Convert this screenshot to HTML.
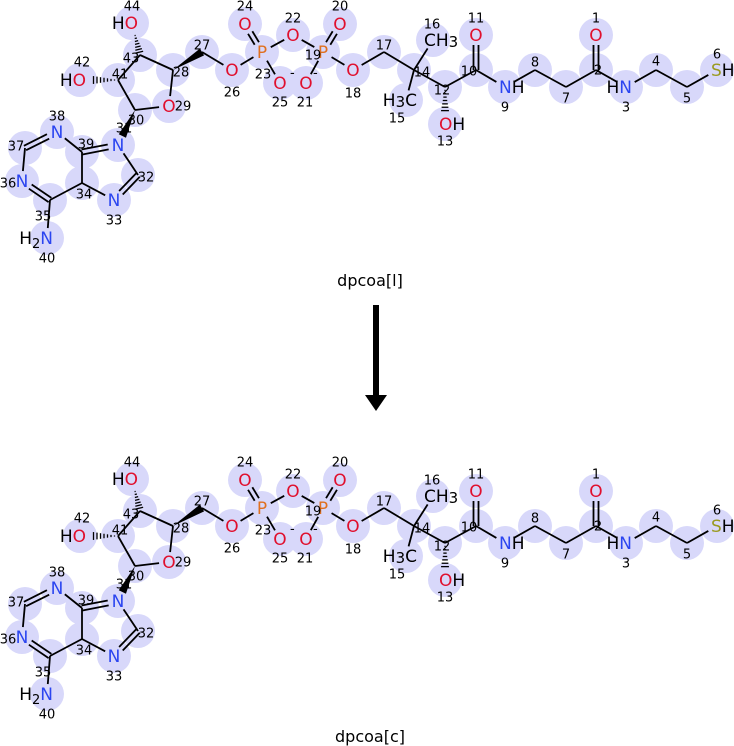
<!DOCTYPE html>
<html><head><meta charset="utf-8"><style>
html,body{margin:0;padding:0;background:#fff;width:734px;height:746px;overflow:hidden}
svg{display:block}
text{font-family:"DejaVu Sans","Liberation Sans",sans-serif}
</style></head><body>
<svg id="s" width="734" height="746" viewBox="0 0 734 746" xmlns="http://www.w3.org/2000/svg">
<g id="g1"></g>
<g id="g2" transform="translate(0,456)"></g>
<text x="370" y="286" font-size="16" text-anchor="middle" fill="#000">dpcoa[l]</text>
<text x="370" y="742" font-size="16" text-anchor="middle" fill="#000">dpcoa[c]</text>
<rect x="373" y="305" width="6" height="92" fill="#000"/>
<polygon points="365,395 387,395 376,411" fill="#000"/>
</svg>
<script>
var A={1:[596,35,'O'],2:[596,70],3:[626,87,'N'],4:[656,70],5:[687,87],6:[717,70,'S'],7:[566,87],8:[535,70],9:[505,87,'N'],10:[476,70],11:[476,35,'O'],12:[445,87],13:[445,124,'O'],14:[414,70],15:[406,100,'C'],16:[433,40,'C'],17:[384,52],18:[353,70,'O'],19:[323,52,'P'],20:[340,24,'O'],21:[306,83,'O'],22:[293,35,'O'],23:[262,52,'P'],24:[245,24,'O'],25:[280,83,'O'],26:[232,70,'O'],27:[202,52],28:[173,70],29:[169,106,'O'],30:[135,110],31:[118,145,'N'],32:[138,175],33:[114,200,'N'],34:[82,183],35:[50,200],36:[22,181,'N'],37:[25,148],38:[57,132,'N'],39:[82,152],40:[47,238,'N'],41:[118,80],42:[80,80,'O'],43:[140,55],44:[132,23,'O']};
var N={1:[596,18],2:[598,70],3:[626,107],4:[656,61],5:[687,98],6:[717,54],7:[566,98],8:[535,62],9:[505,107],10:[469,71],11:[476,18],12:[442,90],13:[445,141],14:[422,72],15:[397,118],16:[432,24],17:[384,45],18:[353,93],19:[313,55],20:[340,6],21:[305,102],22:[293,18],23:[263,74],24:[245,6],25:[280,102],26:[232,92],27:[202,45],28:[181,72],29:[183,106],30:[136,120],31:[124,128],32:[146,177],33:[114,220],34:[84,194],35:[43,216],36:[8,183],37:[16,146],38:[57,116],39:[86,144],40:[47,258],41:[120,74],42:[82,62],43:[131,58],44:[132,6]};
var B=[[44,43,'h'],[43,41],[41,42,'h'],[43,28],[28,27,'w'],[27,26],[26,23],[23,24,'d'],[23,22],[23,25],[22,19],[19,20,'d'],[19,21],[19,18],[18,17],[17,14],[14,16],[14,15],[14,12],[12,13,'h'],[12,10],[10,11,'d'],[10,9],[9,8],[8,7],[7,2],[2,1,'d'],[2,3],[3,4],[4,5],[5,6],[28,29],[29,30],[30,41],[30,31,'w'],[31,39,'d'],[31,32],[32,33,'d'],[33,34],[34,39],[39,38],[38,37,'d'],[37,36],[36,35,'d'],[35,34],[35,40]];
var col={O:'#e0102e',N:'#2b45f0',P:'#e07020',S:'#9a9a20',C:'#000'};
var lab={13:'OH',42:'HO',44:'HO',9:'NH',3:'HN',6:'SH',40:'H₂N',16:'CH₃',15:'H₃C'};
function build(g){
 var h='';
 for(var k in A){h+='<circle cx="'+A[k][0]+'" cy="'+A[k][1]+'" r="17" fill="#d8d8fa"/>';}
 B.forEach(function(b){
  var a=A[b[0]],c=A[b[1]];
  var x1=a[0],y1=a[1],x2=c[0],y2=c[1];
  var dx=x2-x1,dy=y2-y1,L=Math.sqrt(dx*dx+dy*dy),ux=dx/L,uy=dy/L;
  var s1=a[2]?10:0,s2=c[2]?10:0;
  x1+=ux*s1;y1+=uy*s1;x2-=ux*s2;y2-=uy*s2;
  var px=-uy,py=ux;
  if(b[2]=='w'){
   h+='<polygon points="'+x1+','+y1+' '+(x2+px*4)+','+(y2+py*4)+' '+(x2-px*4)+','+(y2-py*4)+'" fill="#000"/>';
  }else if(b[2]=='h'){
   for(var i=1;i<=7;i++){var t=i/8,w=t*4.5,cx=x1+(x2-x1)*t,cy=y1+(y2-y1)*t;
    h+='<line x1="'+(cx+px*w)+'" y1="'+(cy+py*w)+'" x2="'+(cx-px*w)+'" y2="'+(cy-py*w)+'" stroke="#000" stroke-width="1.3"/>';}
  }else if(b[2]=='d'){
   var o=2.5;
   h+='<line x1="'+(x1+px*o)+'" y1="'+(y1+py*o)+'" x2="'+(x2+px*o)+'" y2="'+(y2+py*o)+'" stroke="#000" stroke-width="1.8"/>';
   h+='<line x1="'+(x1-px*o)+'" y1="'+(y1-py*o)+'" x2="'+(x2-px*o)+'" y2="'+(y2-py*o)+'" stroke="#000" stroke-width="1.8"/>';
  }else{
   h+='<line x1="'+x1+'" y1="'+y1+'" x2="'+x2+'" y2="'+y2+'" stroke="#000" stroke-width="1.8"/>';
  }
 });
 for(var k in A){
  var a=A[k];if(!a[2])continue;
  var e=a[2],t=lab[k];
  if(!t){h+='<text x="'+a[0]+'" y="'+(a[1]+6)+'" font-size="17" text-anchor="middle" fill="'+col[e]+'">'+e+'</text>';}
  else{
   var ec=col[e];
   if(t=='OH'||t=='NH'||t=='SH')h+='<text x="'+(a[0]-6)+'" y="'+(a[1]+6)+'" font-size="17" fill="#000"><tspan fill="'+ec+'">'+t[0]+'</tspan>H</text>';
   else if(t=='HO'||t=='HN')h+='<text x="'+(a[0]+6)+'" y="'+(a[1]+6)+'" font-size="17" fill="#000" text-anchor="end">H<tspan fill="'+ec+'">'+t[1]+'</tspan></text>';
   else if(t=='H₂N')h+='<text x="'+(a[0]+6)+'" y="'+(a[1]+6)+'" font-size="17" fill="#000" text-anchor="end">H<tspan font-size="13" dy="4">2</tspan><tspan fill="'+ec+'" dy="-4">N</tspan></text>';
   else if(t=='CH₃')h+='<text x="'+(a[0]-9)+'" y="'+(a[1]+6)+'" font-size="17" fill="#000">CH<tspan font-size="15" dy="1">3</tspan></text>';
   else h+='<text x="'+(a[0]+11)+'" y="'+(a[1]+6)+'" font-size="17" fill="#000" text-anchor="end">H<tspan font-size="15" dy="1">3</tspan><tspan dy="-1">C</tspan></text>';
  }
 }
 for(var k in N){h+='<text x="'+N[k][0]+'" y="'+(N[k][1]+4.5)+'" font-size="13" text-anchor="middle" fill="#000">'+k+'</text>';}
 h+='<text x="290" y="77" font-size="13" fill="#000">-</text><text x="313" y="77" font-size="13" fill="#000">-</text>';
 g.innerHTML=h;
}
build(document.getElementById('g1'));build(document.getElementById('g2'));
</script>
</body></html>
